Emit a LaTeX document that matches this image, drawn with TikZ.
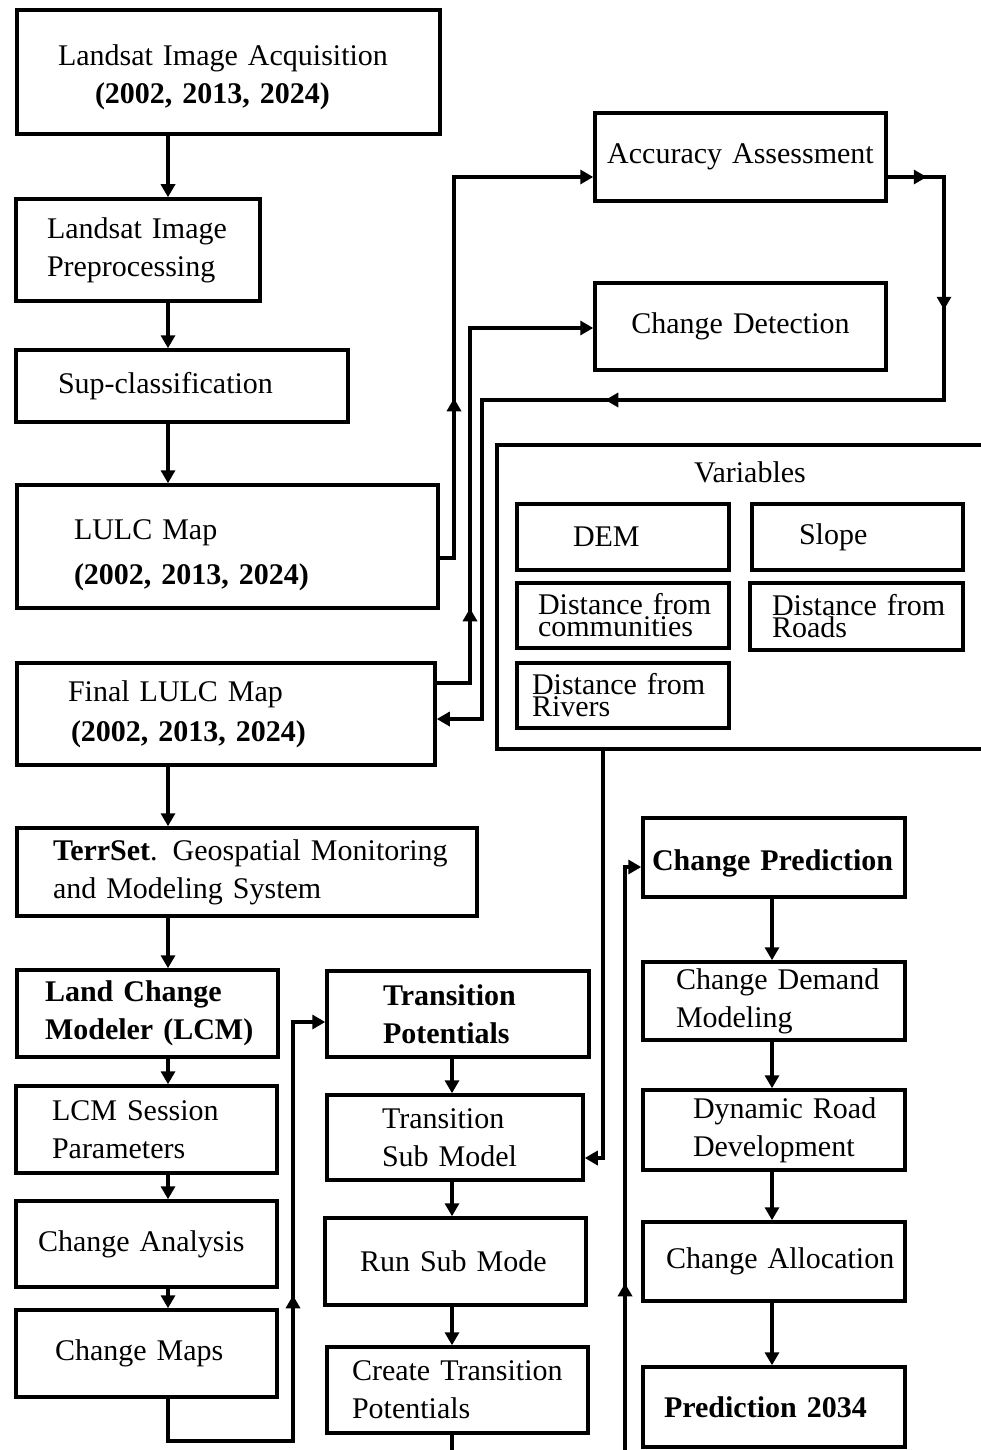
\documentclass[tikz,border=0pt]{standalone}
\usepackage{fontspec}
\setmainfont{Liberation Serif}
\usetikzlibrary{arrows.meta,decorations.markings}
\newcommand{\tightfont}{\fontsize{30}{22}\selectfont\setlength{\lineskiplimit}{-50pt}}
\begin{document}
\begin{tikzpicture}[x=1pt,y=-1pt,
  box/.style={draw, line width=3.5pt, inner ysep=0pt, align=left, font=\fontsize{30}{38}\selectfont},
  smallbox/.style={box, font=\tightfont},
  frame/.style={draw, line width=3.5pt, inner sep=0pt},
  txt/.style={inner sep=0pt, font=\fontsize{30}{38}\selectfont},
  arr/.style={line width=3.5pt, -{Triangle[length=13pt,width=14pt]}},
  mid/.style={postaction={decorate, decoration={markings, mark=at position #1 with {\arrow{Triangle[length=13pt,width=14pt]}}}}},
]
\useasboundingbox (0,0) rectangle (981,1450);
\fill[white] (0,0) rectangle (981,1450);
\clip (0,0) rectangle (981,1450);

% left column
\node[box, text width=341pt, inner xsep=41pt, minimum height=124pt] (acq) at (228.5,72)
  {\rule{0pt}{31pt}Landsat Image Acquisition\\\hspace*{37pt}\textbf{(2002, 2013, 2024)}};
\node[box, text width=182pt, inner xsep=31pt, minimum height=102pt] (pre) at (138,250)
  {\mbox{Landsat Image}\\Preprocessing};
\node[box, text width=248pt, inner xsep=42pt, minimum height=72pt] (sup) at (182,386)
  {Sup-classification};
\node[box, text width=307pt, inner xsep=57pt, minimum height=123pt, font=\fontsize{30}{45}\selectfont] (lulc) at (227.5,546.5)
  {\rule{0pt}{38pt}LULC Map\\\textbf{(2002, 2013, 2024)}};
\node[box, text width=316pt, inner xsep=51pt, minimum height=102pt, font=\fontsize{30}{40}\selectfont] (final) at (226,714)
  {Final LULC Map\\\hspace*{3pt}\textbf{(2002, 2013, 2024)}};
\node[box, text width=388pt, inner xsep=36pt, minimum height=88pt] (terr) at (247,872)
  {\mbox{\textbf{TerrSet}. Geospatial Monitoring}\\and Modeling System};
\node[box, text width=205pt, inner xsep=28pt, minimum height=87pt] (lcm) at (147.5,1013.5)
  {\bfseries\mbox{Land Change}\\\mbox{Modeler (LCM)}};
\node[box, text width=189pt, inner xsep=36pt, minimum height=87pt] (sess) at (146.5,1129.5)
  {LCM Session\\Parameters};
\node[box, text width=217pt, inner xsep=22pt, minimum height=86pt] (anal) at (146.5,1244)
  {Change Analysis};
\node[box, text width=183pt, inner xsep=39pt, minimum height=87pt] (maps) at (146.5,1353.5)
  {Change Maps};

% middle column
\node[box, text width=150pt, inner xsep=56pt, minimum height=86pt] (tp) at (458,1014)
  {\bfseries Transition\\Potentials};
\node[box, text width=146pt, inner xsep=55pt, minimum height=85pt] (tsm) at (455,1137.5)
  {Transition\\Sub Model};
\node[box, text width=191pt, inner xsep=35pt, minimum height=87pt] (run) at (455.5,1261.5)
  {Run Sub Mode};
\node[box, text width=211pt, inner xsep=25pt, minimum height=86pt] (ctp) at (457.5,1390)
  {\mbox{Create Transition}\\Potentials};

% top right
\node[box, align=center, text width=271pt, inner xsep=10pt, minimum height=88pt] (acc) at (740.5,157)
  {Accuracy Assessment};
\node[box, align=center, text width=271pt, inner xsep=10pt, minimum height=87pt] (det) at (740.5,326.5)
  {Change Detection};

% variables
\node[frame, minimum width=503pt, minimum height=304pt] (var) at (748.5,597) {};
\node[txt] (vart) at (750,472) {Variables};
\node[box, text width=100pt, inner xsep=56pt, minimum height=66pt] (dem) at (623,537) {DEM};
\node[box, text width=117pt, inner xsep=47pt, minimum height=66pt] (slope) at (857.5,537) {Slope};
\node[smallbox, text width=170pt, inner xsep=21pt, minimum height=65pt] (comm) at (623,615.5)
  {\mbox{Distance from}\\communities};
\node[smallbox, text width=169pt, inner xsep=22pt, minimum height=67pt] (roads) at (856.5,616.5)
  {\mbox{Distance from}\\Roads};
\node[smallbox, text width=182pt, inner xsep=15pt, minimum height=65pt] (rivers) at (623,695.5)
  {\mbox{Distance from}\\Rivers};

% right column
\node[box, text width=244pt, inner xsep=9pt, minimum height=79pt] (cp) at (774,857.5)
  {\bfseries\rule{0pt}{33pt}\mbox{Change Prediction}};
\node[box, text width=196pt, inner xsep=33pt, minimum height=78pt] (cdm) at (774,1001)
  {\mbox{Change Demand}\\Modeling};
\node[box, text width=162pt, inner xsep=50pt, minimum height=80pt] (drd) at (774,1130)
  {\mbox{Dynamic Road}\\Development};
\node[box, text width=216pt, inner xsep=23pt, minimum height=79pt] (alloc) at (774,1261.5)
  {\mbox{Change Allocation}};
\node[box, text width=220pt, inner xsep=21pt, minimum height=80pt] (pred) at (774,1407)
  {\bfseries\mbox{Prediction 2034}};

% column lines
\coordinate (cA) at (168,0);
\coordinate (cB) at (452,0);
\coordinate (cC) at (772,0);

\draw[arr] (acq.south -| cA) -- (pre.north -| cA);
\draw[arr] (pre.south -| cA) -- (sup.north -| cA);
\draw[arr] (sup.south -| cA) -- (lulc.north -| cA);
\draw[arr] (final.south -| cA) -- (terr.north -| cA);
\draw[arr] (terr.south -| cA) -- (lcm.north -| cA);
\draw[arr] (lcm.south -| cA) -- (sess.north -| cA);
\draw[arr] (sess.south -| cA) -- (anal.north -| cA);
\draw[arr] (anal.south -| cA) -- (maps.north -| cA);

\draw[arr] (tp.south -| cB) -- (tsm.north -| cB);
\draw[arr] (tsm.south -| cB) -- (run.north -| cB);
\draw[arr] (run.south -| cB) -- (ctp.north -| cB);

\draw[arr] (cp.south -| cC) -- (cdm.north -| cC);
\draw[arr] (cdm.south -| cC) -- (drd.north -| cC);
\draw[arr] (drd.south -| cC) -- (alloc.north -| cC);
\draw[arr] (alloc.south -| cC) -- (pred.north -| cC);

% routed connectors
\coordinate (A1) at (454,558);
\coordinate (A2) at (454,177);
\draw[arr, mid=174pt] (lulc.east |- A1) -- (A1) -- (A2) -- (acc.west |- A2);

\coordinate (B1) at (470,683);
\coordinate (B2) at (470,328);
\draw[arr, mid=108pt] (final.east |- B1) -- (B1) -- (B2) -- (det.west |- B2);

\coordinate (C1) at (944,177);
\coordinate (C2) at (944,400);
\coordinate (C3) at (482,400);
\coordinate (C4) at (482,719);
\draw[arr, mid=39pt, mid=189pt, mid=618pt] (acc.east |- C1) -- (C1) -- (C2) -- (C3) -- (C4) -- (final.east |- C4);

\coordinate (D1) at (603,1158);
\draw[arr] (var.south -| D1) -- (D1) -- (tsm.east |- D1);

\coordinate (E1) at (168,1441);
\coordinate (E2) at (293,1441);
\coordinate (E3) at (293,1022);
\draw[arr, mid=313pt] (maps.south -| E1) -- (E1) -- (E2) -- (E3) -- (tp.west |- E3);

\coordinate (F1) at (452,1475);
\coordinate (F2) at (625,1475);
\coordinate (F3) at (625,867);
\draw[arr, mid=405pt] (ctp.south -| F1) -- (F1) -- (F2) -- (F3) -- (cp.west |- F3);
\end{tikzpicture}
\end{document}
